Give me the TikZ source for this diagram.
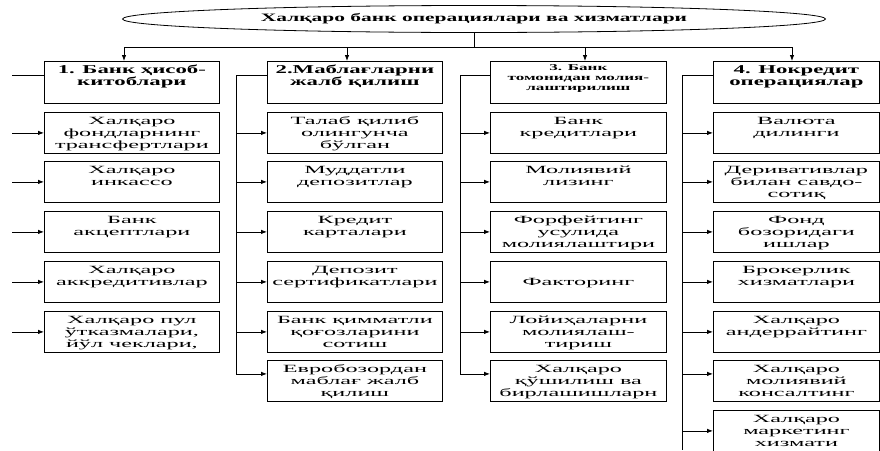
\documentclass[tikz,border=0pt]{standalone}
\usepackage{fontspec}
\setmainfont{Liberation Serif}[FakeStretch=1.9]
\newfontfamily\cellfont{Liberation Serif}[FakeStretch=2.2]
\usetikzlibrary{shapes.geometric, arrows.meta, positioning, calc}

% text block of a cell: width, height, lines (top aligned)
\newcommand{\cellbox}[4][12.5pt]{\parbox[t][#3][t]{#2}{\centering\rule{0pt}{#1}#4}}

\begin{document}
\begin{tikzpicture}[
    x=1pt, y=-1pt,
    title/.style={ellipse, draw, line width=0.8pt, minimum width=703pt, minimum height=27pt, inner sep=0pt, font=\bfseries\fontsize{11.3}{13}\selectfont},
    headbox/.style={draw, line width=0.8pt, inner sep=0pt, anchor=north west, font=\bfseries\fontsize{12}{12}\selectfont},
    subbox/.style={draw, line width=0.8pt, inner sep=0pt, anchor=north west, font=\cellfont\fontsize{11}{11.8}\selectfont},
    bus/.style={line width=0.8pt},
    arrow/.style={line width=0.8pt, -{Latex[length=6pt,width=4.5pt]}}
]
    \useasboundingbox (0,0) rectangle (880,450);

    \node[title] (title) at (474,19) {Халқаро банк операциялари ва хизматлари};

    % Column 1: settlements
    \node[headbox] (head1) at (44,61) {\cellbox{175pt}{42pt}{1. Банк ҳисоб-\\китоблари}};
    \node[subbox] (pay1) at (44,112) {\cellbox{175pt}{41pt}{Халқаро\\фондларнинг\\трансфертлари}};
    \node[subbox] (pay2) at (44,161) {\cellbox{175pt}{41pt}{Халқаро\\инкассо}};
    \node[subbox] (pay3) at (44,211) {\cellbox{175pt}{41pt}{Банк\\акцептлари}};
    \node[subbox] (pay4) at (44,261) {\cellbox{175pt}{41pt}{Халқаро\\аккредитивлар}};
    \node[subbox] (pay5) at (44,311) {\cellbox{175pt}{41pt}{Халқаро пул\\ўтказмалари,\\йўл чеклари,}};

    % Column 2: raising funds
    \node[headbox] (head2) at (267,61) {\cellbox{175pt}{42pt}{2.Маблағларни\\жалб қилиш}};
    \node[subbox] (fund1) at (267,112) {\cellbox{175pt}{41pt}{Талаб қилиб\\олингунча\\бўлган}};
    \node[subbox] (fund2) at (267,161) {\cellbox{175pt}{41pt}{Муддатли\\депозитлар}};
    \node[subbox] (fund3) at (267,211) {\cellbox{175pt}{41pt}{Кредит\\карталари}};
    \node[subbox] (fund4) at (267,261) {\cellbox{175pt}{41pt}{Депозит\\сертификатлари}};
    \node[subbox] (fund5) at (267,311) {\cellbox{175pt}{41pt}{Банк қимматли\\қоғозларини\\сотиш}};
    \node[subbox] (fund6) at (267,360) {\cellbox{175pt}{41pt}{Евробозордан\\маблағ жалб\\қилиш}};

    % Column 3: financing
    \node[headbox, font=\bfseries\fontsize{9}{10}\selectfont] (head3) at (490,61) {\cellbox[9.5pt]{176pt}{42pt}{3. Банк\\томонидан молия-\\лаштирилиш}};
    \node[subbox] (loan1) at (490,112) {\cellbox{176pt}{41pt}{Банк\\кредитлари}};
    \node[subbox] (loan2) at (490,161) {\cellbox{176pt}{41pt}{Молиявий\\лизинг}};
    \node[subbox] (loan3) at (490,211) {\cellbox{176pt}{41pt}{Форфейтинг\\усулида\\молиялаштири}};
    \node[subbox] (loan4) at (490,261) {\cellbox{176pt}{41pt}{\\Факторинг}};
    \node[subbox] (loan5) at (490,311) {\cellbox{176pt}{41pt}{Лойиҳаларни\\молиялаш-\\тириш}};
    \node[subbox] (loan6) at (490,360) {\cellbox{176pt}{41pt}{Халқаро\\қўшилиш ва\\бирлашишларн}};

    % Column 4: non-credit operations
    \node[headbox] (head4) at (713,61) {\cellbox{166pt}{42pt}{4. Нокредит\\операциялар}};
    \node[subbox] (serv1) at (713,112) {\cellbox{166pt}{41pt}{Валюта\\дилинги}};
    \node[subbox] (serv2) at (713,161) {\cellbox{166pt}{41pt}{Деривативлар\\билан савдо-\\сотиқ}};
    \node[subbox] (serv3) at (713,211) {\cellbox{166pt}{41pt}{Фонд\\бозоридаги\\ишлар}};
    \node[subbox] (serv4) at (713,261) {\cellbox{166pt}{41pt}{Брокерлик\\хизматлари}};
    \node[subbox] (serv5) at (713,311) {\cellbox{166pt}{41pt}{Халқаро\\андеррайтинг}};
    \node[subbox] (serv6) at (713,360) {\cellbox{166pt}{41pt}{Халқаро\\молиявий\\консалтинг}};
    \node[subbox] (serv7) at (713,410) {\cellbox{166pt}{41pt}{Халқаро\\маркетинг\\хизмати}};

    % Top distribution
    \coordinate (hub) at (474,47);
    \coordinate (drop1) at (124,47);
    \coordinate (drop2) at (347,47);
    \coordinate (drop3) at (585,47);
    \coordinate (drop4) at (792,47);
    \draw[bus] (title.south) -- (hub);
    \draw[bus] (drop1) -- (drop4);
    \draw[arrow] (drop1) -- (drop1 |- head1.north);
    \draw[arrow] (drop2) -- (drop2 |- head2.north);
    \draw[arrow] (drop3) -- (drop3 |- head3.north);
    \draw[arrow] (drop4) -- (drop4 |- head4.north);

    % Side buses
    \coordinate (busA) at (12,0);
    \coordinate (busB) at (236,0);
    \coordinate (busC) at (460,0);
    \coordinate (busD) at (682,0);
    \coordinate (floor) at (0,450);
    \coordinate (tap1) at ([yshift=-14pt]head1.north west);
    \coordinate (tap2) at ([yshift=-14pt]head2.north west);
    \coordinate (tap3) at ([yshift=-14pt]head3.north west);
    \coordinate (tap4) at ([yshift=-14pt]head4.north west);

    \draw[bus] (tap1) -- (busA |- tap1);
    \draw[arrow] (busA |- pay1.west) -- (pay1.west);
    \draw[arrow] (busA |- pay2.west) -- (pay2.west);
    \draw[arrow] (busA |- pay3.west) -- (pay3.west);
    \draw[arrow] (busA |- pay4.west) -- (pay4.west);
    \draw[arrow] (busA |- pay5.west) -- (pay5.west);

    \draw[bus] (tap2) -| ([yshift=7pt]busB |- fund6.west);
    \draw[arrow] (busB |- fund1.west) -- (fund1.west);
    \draw[arrow] (busB |- fund2.west) -- (fund2.west);
    \draw[arrow] (busB |- fund3.west) -- (fund3.west);
    \draw[arrow] (busB |- fund4.west) -- (fund4.west);
    \draw[arrow] (busB |- fund5.west) -- (fund5.west);
    \draw[arrow] ([yshift=7pt]busB |- fund6.west) -- ([yshift=7pt]fund6.west);

    \draw[bus] (tap3) -| ([yshift=7pt]busC |- loan6.west);
    \draw[arrow] (busC |- loan1.west) -- (loan1.west);
    \draw[arrow] (busC |- loan2.west) -- (loan2.west);
    \draw[arrow] (busC |- loan3.west) -- (loan3.west);
    \draw[arrow] (busC |- loan4.west) -- (loan4.west);
    \draw[arrow] (busC |- loan5.west) -- (loan5.west);
    \draw[arrow] ([yshift=7pt]busC |- loan6.west) -- ([yshift=7pt]loan6.west);

    \draw[bus] (tap4) -| (busD |- floor);
    \draw[arrow] (busD |- serv1.west) -- (serv1.west);
    \draw[arrow] (busD |- serv2.west) -- (serv2.west);
    \draw[arrow] (busD |- serv3.west) -- (serv3.west);
    \draw[arrow] (busD |- serv4.west) -- (serv4.west);
    \draw[arrow] (busD |- serv5.west) -- (serv5.west);
    \draw[arrow] ([yshift=7pt]busD |- serv6.west) -- ([yshift=7pt]serv6.west);
    \draw[arrow] (busD |- serv7.west) -- (serv7.west);

\end{tikzpicture}
\end{document}
